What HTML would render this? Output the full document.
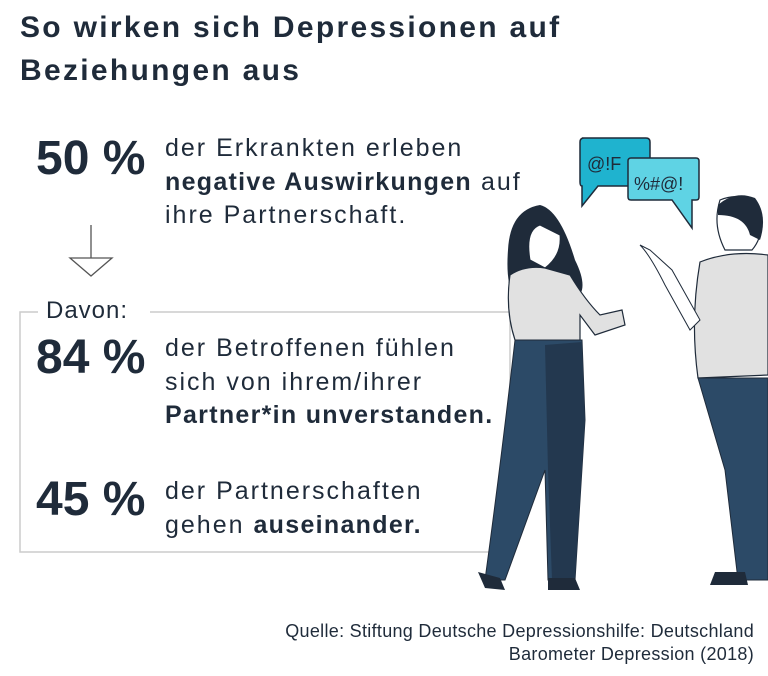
<!DOCTYPE html>
<html><head><meta charset="utf-8"><style>
body{margin:0;width:768px;height:676px;background:#fff;font-family:"Liberation Sans",sans-serif;color:#1f2b3a;position:relative;overflow:hidden}
.t{position:absolute;left:20px;top:6px;font-size:30px;font-weight:bold;line-height:43px;letter-spacing:2.3px}
.n{position:absolute;left:36px;font-size:48px;font-weight:bold;letter-spacing:0px}
.p{position:absolute;left:165px;font-size:25px;line-height:33.5px;letter-spacing:2px;white-space:nowrap}
.p b{letter-spacing:1.3px}
.src{position:absolute;right:14px;top:620px;font-size:18px;line-height:23px;text-align:right;letter-spacing:0.3px}
</style></head><body>
<div class="t">So wirken sich Depressionen auf<br>Beziehungen aus</div>
<div class="n" style="top:131px">50 %</div>
<div class="p" style="top:132px">der Erkrankten erleben<br><b>negative Auswirkungen</b> auf<br>ihre Partnerschaft.</div>
<svg style="position:absolute;left:0;top:0" width="768" height="676">
<path d="M91 225V258H70L91 276L112 258H91" fill="none" stroke="#555" stroke-width="1.3"/>
<path d="M38 312H20V552H510V312H150" fill="none" stroke="#ccc" stroke-width="1.5"/>
<path d="M582 138H646Q650 138 650 142V182Q650 186 646 186H598L582 206V186Q580 186 580 182V142Q580 138 584 138Z" fill="#1fb3cf" stroke="#1f2b3a" stroke-width="1.5"/>
<text x="587" y="170" font-size="18" fill="#1f2b3a" font-family="Liberation Sans">@!F</text>
<path d="M631 158H696Q699 158 699 161V197Q699 200 696 200H692V228L672 200H631Q628 200 628 197V161Q628 158 631 158Z" fill="#5fd3e4" stroke="#1f2b3a" stroke-width="1.5"/>
<text x="634" y="190" font-size="18" fill="#1f2b3a" font-family="Liberation Sans">%#@!</text>
<path d="M540 205Q510 210 508 250Q505 290 518 300L575 300Q590 290 575 260Q560 210 540 205Z" fill="#1f2b3a"/>
<path d="M540 225Q525 230 530 260L545 268Q562 255 560 235Z" fill="#fff" stroke="#1f2b3a"/>
<path d="M510 275Q525 265 545 268L570 275Q585 300 600 315L622 310L625 325L595 335L580 315L580 345L515 340Q505 310 510 275Z" fill="#e1e1e1" stroke="#1f2b3a" stroke-width="1.2"/>
<path d="M515 340H582L585 420L575 580H548L545 470L505 580H485Q500 470 515 340Z" fill="#2c4a67" stroke="#1f2b3a"/>
<path d="M545 345L582 342L585 420L575 580H552L548 470Z" fill="#23384f"/>
<path d="M478 572L500 578L505 590L485 588Z M548 578H575L580 590H548Z" fill="#1f2b3a"/>
<path d="M720 200Q745 190 760 210Q765 235 752 250L725 250Q712 225 720 200Z" fill="#fff" stroke="#1f2b3a" stroke-width="1.2"/>
<path d="M718 205Q735 190 755 198Q768 215 760 240L750 235Q745 215 718 215Z" fill="#1f2b3a"/>
<path d="M700 262Q730 250 768 255V375L698 378Q690 320 700 262Z" fill="#e1e1e1" stroke="#1f2b3a" stroke-width="1.2"/>
<path d="M640 245Q650 255 665 285L690 330L700 320L672 270L650 250Z" fill="#fff" stroke="#1f2b3a"/>
<path d="M698 378H768V580H738L725 470Z" fill="#2c4a67" stroke="#1f2b3a"/>
<path d="M715 572H745L748 585H710Z" fill="#1f2b3a"/>
</svg>
<div style="position:absolute;left:38px;top:296px;font-size:24px;background:#fff;padding:0 8px;line-height:30px;letter-spacing:1px">Davon:</div>
<div class="n" style="top:330px">84 %</div>
<div class="p" style="top:332px">der Betroffenen fühlen<br>sich von ihrem/ihrer<br><b>Partner*in unverstanden.</b></div>
<div class="n" style="top:472px">45 %</div>
<div class="p" style="top:475px">der Partnerschaften<br>gehen <b>auseinander.</b></div>
<div class="src">Quelle: Stiftung Deutsche Depressionshilfe: Deutschland<br>Barometer Depression (2018)</div>
</body></html>
